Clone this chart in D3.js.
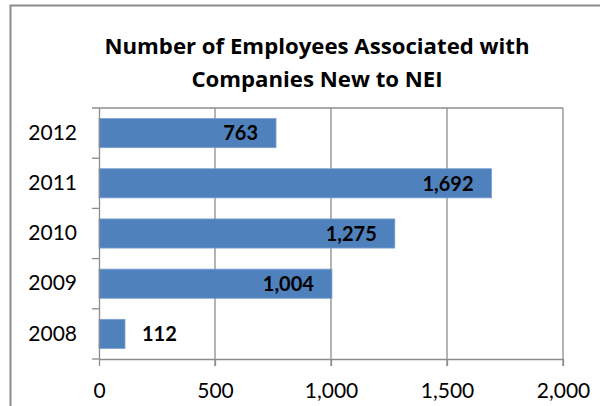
<!DOCTYPE html>
<html><head><meta charset="utf-8">
<script src="https://cdn.jsdelivr.net/npm/d3@7"></script>
<style>body{margin:0;background:#fff}svg{display:block}</style>
</head><body>
<svg id="c" width="600" height="406"></svg>
<script>
const titleLines = ["Number of Employees Associated with", "Companies New to NEI"];
const categories = ["2012", "2011", "2010", "2009", "2008"];
const values = [763, 1692, 1275, 1004, 112];
const xTicks = [0, 500, 1000, 1500, 2000];

const svg = d3.select("#c");
const font = "Lato, 'Open Sans', sans-serif";
const titleFont = "'Open Sans', Lato, sans-serif";
const L = 99, R = 563, T = 108, B = 359;

// outer border
svg.append("path").attr("d", "M10.5,406 V5.5 H600").attr("fill", "none").attr("stroke", "#8c8c8c").attr("stroke-width", 2);

svg.selectAll("text.title").data(titleLines).join("text")
  .attr("x", 317).attr("y", (d, i) => 54 + i * 33)
  .attr("text-anchor", "middle").attr("font-family", titleFont).attr("font-weight", "bold")
  .attr("font-size", 22.2).attr("fill", "#000").text(d => d);

const x = d3.scaleLinear().domain([0, 2000]).range([L, R]);
const y = d3.scaleBand().domain(categories).range([T, B]).paddingInner(0.42).paddingOuter(0.21);

// gridlines
svg.append("g").selectAll("line").data(xTicks.slice(1)).join("line")
  .attr("x1", d => x(d)).attr("x2", d => x(d)).attr("y1", T).attr("y2", B + 7)
  .attr("stroke", "#8c8c8c").attr("stroke-width", 1.3);
// top border line
svg.append("line").attr("x1", L - 7).attr("x2", R).attr("y1", T).attr("y2", T).attr("stroke", "#8c8c8c").attr("stroke-width", 1.3);

// bars
svg.append("g").selectAll("rect").data(values).join("rect")
  .attr("x", x(0)).attr("y", (d, i) => y(categories[i]))
  .attr("width", d => x(d) - x(0)).attr("height", y.bandwidth())
  .attr("fill", "#4f81bd").attr("stroke", "#7a9fcf").attr("stroke-width", 0.8);

// x axis
const xa = svg.append("g").attr("transform", `translate(0,${B})`)
  .call(d3.axisBottom(x).tickValues(xTicks).tickSize(7).tickSizeOuter(0).tickFormat(d3.format(",")));
xa.select(".domain").attr("stroke", "#8c8c8c").attr("stroke-width", 1.3);
xa.selectAll(".tick line").attr("stroke", "#8c8c8c").attr("stroke-width", 1.3);
xa.selectAll("text").attr("font-family", font).attr("font-size", 21).attr("fill", "#000").attr("dy", null).attr("y", 39);

// y axis with boundary ticks
const ya = svg.append("g").attr("transform", `translate(${L},0)`)
  .call(d3.axisLeft(y).tickSize(0).tickSizeOuter(0).tickPadding(22));
ya.select(".domain").attr("stroke", "#8c8c8c").attr("stroke-width", 1.3);
ya.selectAll("text").attr("font-family", font).attr("font-size", 21).attr("fill", "#000");
const bounds = d3.range(0, categories.length + 1).map(i => T + i * (B - T) / categories.length);
ya.selectAll("line.bt").data(bounds.slice(1)).join("line").attr("class", "bt")
  .attr("x1", -7).attr("x2", 0).attr("y1", d => d).attr("y2", d => d)
  .attr("stroke", "#8c8c8c").attr("stroke-width", 1.3);

// value labels
svg.append("g").selectAll("text").data(values).join("text")
  .attr("x", d => d > 300 ? x(d) - 18 : x(d) + 17)
  .attr("y", (d, i) => y(categories[i]) + y.bandwidth() / 2)
  .attr("dy", "0.36em")
  .attr("text-anchor", d => d > 300 ? "end" : "start")
  .attr("font-family", font).attr("font-weight", "bold").attr("font-size", 20).attr("fill", "#000")
  .text(d => d3.format(",")(d));
</script>
</body></html>
